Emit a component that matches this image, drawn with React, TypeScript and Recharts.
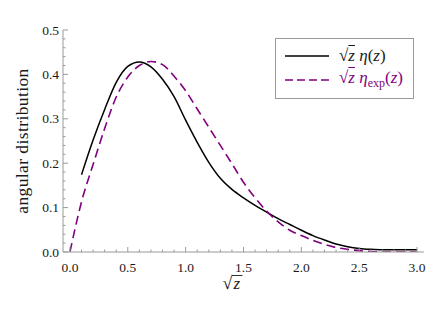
import React from "react";
import { LineChart, Line, XAxis, YAxis, Legend, Label } from "recharts";

// values
const sqrtZ = [
  0, 0.1, 0.2, 0.3, 0.4, 0.5, 0.6, 0.7, 0.8, 0.9, 1.0, 1.1, 1.2, 1.3, 1.4, 1.5,
  1.6, 1.7, 1.8, 1.9, 2.0, 2.1, 2.2, 2.3, 2.4, 2.5, 2.6, 2.7, 2.8, 2.9, 3.0,
];
const eta = [
  null, 0.174, 0.252, 0.321, 0.382, 0.418, 0.428, 0.417, 0.389, 0.35, 0.297,
  0.247, 0.202, 0.166, 0.141, 0.122, 0.105, 0.09, 0.075, 0.062, 0.049, 0.037,
  0.027, 0.018, 0.012, 0.008, 0.006, 0.005, 0.005, 0.005, 0.005,
];
const etaExp = [
  0, 0.113, 0.197, 0.278, 0.349, 0.394, 0.42, 0.429, 0.422, 0.396, 0.363,
  0.322, 0.281, 0.24, 0.199, 0.157, 0.122, 0.092, 0.068, 0.049, 0.037, 0.026,
  0.017, 0.01, 0.006, 0.003, 0.001, 0, 0, 0, 0,
];

const xTicks = Array.from({ length: 31 }, (_, i) => i / 10);
const yTicks = Array.from({ length: 26 }, (_, i) => (i * 2) / 100);

const data = sqrtZ.map((x, i) => ({ x, eta: eta[i], etaExp: etaExp[i] }));

const FRAME = "#9a9a9a";
const INK = "#1a1a1a";
const PURPLE = "#800080";
const SERIF = "Liberation Serif";

const isMajor = (v: number, step: number) =>
  Math.abs(v / step - Math.round(v / step)) < 1e-6;

function XTick(props: any) {
  const { x, y, payload, side } = props;
  const major = isMajor(payload.value, 0.5);
  const len = major ? 5 : 2.5;
  const dir = side === "bottom" ? -1 : 1;
  return (
    <g>
      <line x1={x} x2={x} y1={y} y2={y + dir * len} stroke={FRAME} />
      {side === "bottom" && major && (
        <text x={x} y={y + 20} textAnchor="middle" fontSize={13.5} fill={INK} fontFamily={SERIF}>
          {payload.value.toFixed(1)}
        </text>
      )}
    </g>
  );
}

function YTick(props: any) {
  const { x, y, payload, side } = props;
  const major = isMajor(payload.value, 0.1);
  const len = major ? 5 : 2.5;
  const dir = side === "left" ? 1 : -1;
  return (
    <g>
      <line x1={x} x2={x + dir * len} y1={y} y2={y} stroke={FRAME} />
      {side === "left" && major && (
        <text x={x - 4} y={y + 4.5} textAnchor="end" fontSize={13.5} fill={INK} fontFamily={SERIF}>
          {payload.value.toFixed(1)}
        </text>
      )}
    </g>
  );
}

function RootZ() {
  return (
    <span>
      √<span style={{ fontStyle: "italic", textDecoration: "overline" }}>z</span>
    </span>
  );
}

function LegendBox() {
  const row = { display: "flex", alignItems: "center", height: 24 };
  return (
    <div
      style={{
        border: `1px solid ${FRAME}`,
        background: "#fff",
        padding: "5px 0 5px 9px",
        fontFamily: SERIF,
        fontSize: 17,
        boxSizing: "border-box",
        width: 139,
        height: 61,
        whiteSpace: "nowrap",
      }}
    >
      <div style={row}>
        <svg width={44} height={6} style={{ marginRight: 10 }}>
          <line x1={0} x2={44} y1={3} y2={3} stroke="#000" strokeWidth={1.5} />
        </svg>
        <span style={{ color: INK }}>
          <RootZ /> <i>η</i>(<i>z</i>)
        </span>
      </div>
      <div style={row}>
        <svg width={44} height={6} style={{ marginRight: 10 }}>
          <line x1={0} x2={44} y1={3} y2={3} stroke={PURPLE} strokeWidth={1.5} strokeDasharray="8 4" />
        </svg>
        <span style={{ color: PURPLE }}>
          <RootZ /> <i>η</i>
          <sub style={{ fontSize: 12 }}>exp</sub>(<i>z</i>)
        </span>
      </div>
    </div>
  );
}

export default function App() {
  return (
    <div style={{ position: "absolute", left: 0, top: 0, width: 436, height: 327, background: "#fff" }}>
      <LineChart width={436} height={327} data={data} margin={{ top: 30, right: 12, bottom: 0, left: 0 }}>
        <XAxis
          dataKey="x"
          type="number"
          domain={[-0.06, 3.06]}
          allowDataOverflow
          ticks={xTicks}
          interval={0}
          height={75}
          stroke={FRAME}
          tickLine={false}
          tickSize={0}
          tickMargin={0}
          tick={(p: any) => <XTick {...p} side="bottom" />}
        >
          <Label
            content={(p: any) => {
              const vb = p.viewBox;
              const cx = vb.x + vb.width / 2 - 10;
              const by = vb.y + 37;
              return (
                <g fontFamily={SERIF} fill={INK}>
                  <text x={cx - 11} y={by} fontSize={18}>√</text>
                  <line x1={cx - 1.5} x2={cx + 9} y1={by - 13.5} y2={by - 13.5} stroke={INK} strokeWidth={0.9} />
                  <text x={cx} y={by} fontSize={17} fontStyle="italic">z</text>
                </g>
              );
            }}
          />
        </XAxis>
        <XAxis
          xAxisId="top"
          orientation="top"
          type="number"
          domain={[-0.06, 3.06]}
          allowDataOverflow
          ticks={xTicks}
          interval={0}
          height={0}
          stroke={FRAME}
          tickLine={false}
          tickSize={0}
          tickMargin={0}
          tick={(p: any) => <XTick {...p} side="top" />}
        />
        <YAxis
          type="number"
          domain={[0, 0.5]}
          allowDataOverflow
          ticks={yTicks}
          interval={0}
          width={63}
          stroke={FRAME}
          tickLine={false}
          tickSize={0}
          tickMargin={0}
          tick={(p: any) => <YTick {...p} side="left" />}
        >
          <Label
            content={(p: any) => {
              const vb = p.viewBox;
              const cx = 22;
              const cy = vb.y + vb.height / 2;
              return (
                <text
                  x={cx}
                  y={cy}
                  transform={`rotate(-90 ${cx} ${cy})`}
                  textAnchor="middle"
                  dominantBaseline="central"
                  fontFamily={SERIF}
                  fontSize={17.5}
                  letterSpacing={0.4}
                  fill={INK}
                >
                  angular distribution
                </text>
              );
            }}
          />
        </YAxis>
        <YAxis
          yAxisId="right"
          orientation="right"
          type="number"
          domain={[0, 0.5]}
          allowDataOverflow
          ticks={yTicks}
          interval={0}
          width={0}
          stroke={FRAME}
          tickLine={false}
          tickSize={0}
          tickMargin={0}
          tick={(p: any) => <YTick {...p} side="right" />}
        />
        <Legend
          layout="vertical"
          align="center"
          verticalAlign="middle"
          wrapperStyle={{ left: 275, top: 38, width: 139 }}
          content={() => <LegendBox />}
        />
        <Line
          dataKey="eta"
          type="monotone"
          stroke="#000"
          strokeWidth={1.5}
          dot={false}
          isAnimationActive={false}
        />
        <Line
          dataKey="etaExp"
          type="monotone"
          stroke={PURPLE}
          strokeWidth={1.6}
          strokeDasharray="9 5"
          dot={false}
          isAnimationActive={false}
        />
      </LineChart>
    </div>
  );
}
